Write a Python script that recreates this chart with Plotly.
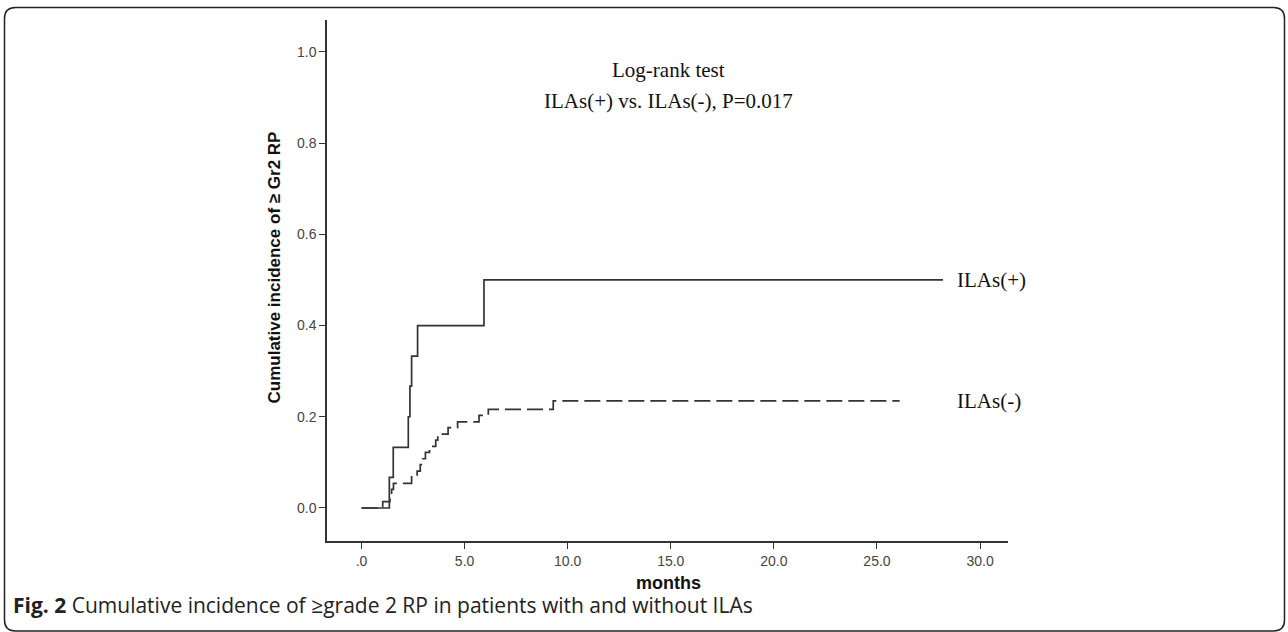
import plotly.graph_objects as go

# ---- data ----
pos_months = [0, 1.35, 1.54, 2.27, 2.35, 2.43, 2.72, 5.94, 28.2]
pos_inc = [0, 0.067, 0.133, 0.2, 0.267, 0.333, 0.4, 0.5, 0.5]

neg_months = [0, 1.03, 1.38, 1.46, 1.55, 2.43, 2.7, 2.85, 2.97, 3.1, 3.3,
              3.6, 3.7, 4.2, 4.66, 5.7, 6.15, 9.3, 26.1]
neg_inc = [0, 0.014, 0.027, 0.041, 0.054, 0.068, 0.081, 0.095, 0.108, 0.122,
           0.135, 0.149, 0.162, 0.176, 0.189, 0.203, 0.216, 0.235, 0.235]

x_ticks = [0, 5, 10, 15, 20, 25, 30]
x_tick_labels = [".0", "5.0", "10.0", "15.0", "20.0", "25.0", "30.0"]
y_ticks = [0, 0.2, 0.4, 0.6, 0.8, 1.0]
y_tick_labels = ["0.0", "0.2", "0.4", "0.6", "0.8", "1.0"]

W, H = 1288, 632
L, R, T, B = 327, 1008, 20, 541  # plot area in pixels


def px(x):
    return (x - L) / (R - L)


def py(y):
    return (B - y) / (B - T)


line_col = "#333333"

fig = go.Figure()
fig.add_trace(go.Scatter(x=pos_months, y=pos_inc, mode="lines", line_shape="hv",
                         line=dict(color=line_col, width=1.7), name="ILAs(+)",
                         showlegend=False))
fig.add_trace(go.Scatter(x=neg_months, y=neg_inc, mode="lines", line_shape="hv",
                         line=dict(color=line_col, width=1.7, dash="16px,6px"),
                         name="ILAs(-)", showlegend=False))

tickfont = dict(family="Liberation Sans", size=14, color="#444")
fig.update_layout(
    width=W, height=H,
    margin=dict(l=L, r=W - R, t=T, b=H - B),
    paper_bgcolor="white", plot_bgcolor="white",
    xaxis=dict(range=[-1.673, 31.355], tickvals=x_ticks, ticktext=x_tick_labels,
               showgrid=False, zeroline=False, showline=True, linecolor=line_col,
               linewidth=1.5, ticks="outside", ticklen=6, tickwidth=1.3,
               tickcolor=line_col, tickfont=tickfont),
    yaxis=dict(range=[-0.0724, 1.070], tickvals=y_ticks, ticktext=y_tick_labels,
               showgrid=False, zeroline=False, showline=True, linecolor=line_col,
               linewidth=1.5, ticks="outside", ticklen=6, tickwidth=1.3,
               tickcolor=line_col, tickfont=tickfont),
)

serif = dict(family="Liberation Serif", size=21, color="#111")
ann = [
    dict(x=px(668), y=py(70), text="Log-rank test", font=serif),
    dict(x=px(668), y=py(101), text="ILAs(+) vs. ILAs(-), P=0.017", font=serif),
    dict(x=px(955), y=0.5, yref="y", text="ILAs(+)", xanchor="left", font=serif),
    dict(x=px(955), y=0.235, yref="y", text="ILAs(-)", xanchor="left", font=serif),
    dict(x=px(262), y=py(268), text="<b>Cumulative incidence of ≥ Gr2 RP</b>",
         textangle=-90,
         font=dict(family="Liberation Sans", size=17, color="#111")),
    dict(x=px(668), y=py(583), text="<b>months</b>",
         font=dict(family="Liberation Sans", size=18, color="#111")),
    dict(x=px(11), y=py(605), xanchor="left",
         text="<b>Fig. 2</b> Cumulative incidence of ≥grade 2 RP in patients with and without ILAs",
         font=dict(family="Open Sans", size=21, color="#222")),
]
for a in ann:
    a.setdefault("xref", "paper")
    a.setdefault("yref", "paper")
    a["showarrow"] = False
    if a["yref"] == "paper":
        a["yanchor"] = "middle"
fig.update_layout(annotations=ann)

# rounded frame around the figure
x0, y0, x1, y1, r = 4.5, 7.5, 1284.5, 631, 11
path = (f"M {px(x0)},{py(y0 + r)} L {px(x0)},{py(y1 - r)} "
        f"Q {px(x0)},{py(y1)} {px(x0 + r)},{py(y1)} L {px(x1 - r)},{py(y1)} "
        f"Q {px(x1)},{py(y1)} {px(x1)},{py(y1 - r)} L {px(x1)},{py(y0 + r)} "
        f"Q {px(x1)},{py(y0)} {px(x1 - r)},{py(y0)} L {px(x0 + r)},{py(y0)} "
        f"Q {px(x0)},{py(y0)} {px(x0)},{py(y0 + r)} Z")
fig.add_shape(type="path", path=path, xref="paper", yref="paper",
              line=dict(color="#222", width=1.5), layer="below")

fig.write_html("out.html", config={"displayModeBar": False},
               post_script="document.body.style.margin='0';document.body.style.overflow='hidden';")
